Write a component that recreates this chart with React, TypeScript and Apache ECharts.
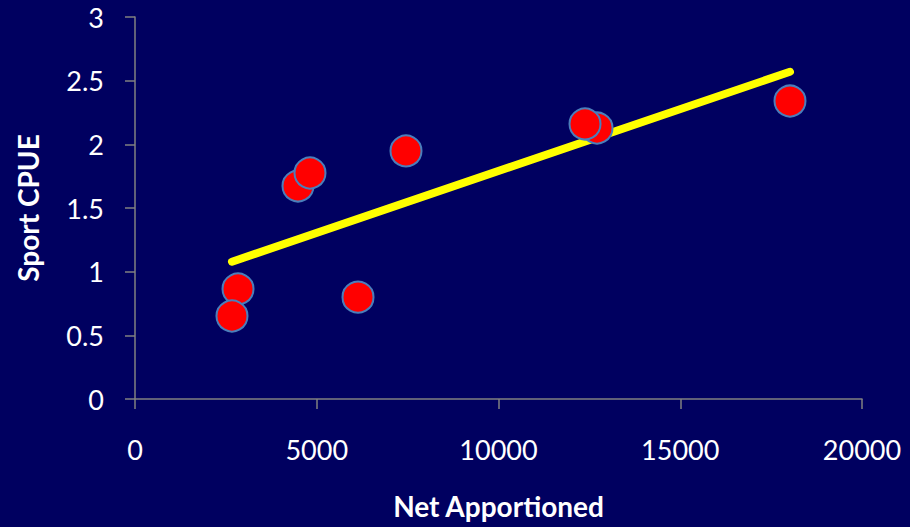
import React, { useEffect, useRef } from "react";
import * as echarts from "echarts";

const netApportioned = [2834, 2668, 4484, 4814, 6135, 7455, 12710, 12380, 18019];
const sportCpue = [0.864, 0.652, 1.673, 1.775, 0.80, 1.948, 2.128, 2.16, 2.34];
const trendX = [2668, 18019];
const trendY = [1.078, 2.57];

const FONT = "Lato";

export default function App() {
  const ref = useRef<HTMLDivElement>(null);
  useEffect(() => {
    if (!ref.current) return;
    const chart = echarts.init(ref.current, undefined, { renderer: "svg" });
    const axisLine = { show: true, lineStyle: { color: "#808080", width: 1.5 } };
    chart.setOption({
      animation: false,
      backgroundColor: "#000060",
      grid: { left: 135, right: 48, top: 17, bottom: 128 },
      xAxis: {
        type: "value",
        min: 0,
        max: 20000,
        interval: 5000,
        name: "Net Apportioned",
        nameLocation: "middle",
        nameGap: 93,
        nameTextStyle: { color: "#ffffff", fontFamily: FONT, fontWeight: "bold", fontSize: 28 },
        axisLine,
        axisTick: { show: true, length: 10, lineStyle: { color: "#808080", width: 1.5 } },
        axisLabel: {
          color: "#ffffff",
          fontFamily: FONT,
          fontSize: 27,
          margin: 37,
          formatter: (v: number) => String(v),
        },
        splitLine: { show: false },
      },
      yAxis: {
        type: "value",
        min: 0,
        max: 3,
        interval: 0.5,
        name: "Sport CPUE",
        nameLocation: "middle",
        nameGap: 93,
        nameTextStyle: { color: "#ffffff", fontFamily: FONT, fontWeight: "bold", fontSize: 28 },
        axisLine,
        axisTick: { show: true, length: 10, lineStyle: { color: "#808080", width: 1.5 } },
        axisLabel: { color: "#ffffff", fontFamily: FONT, fontSize: 27, margin: 31 },
        splitLine: { show: false },
      },
      series: [
        {
          type: "line",
          data: trendX.map((x, i) => [x, trendY[i]]),
          showSymbol: false,
          symbol: "none",
          lineStyle: { color: "#ffff00", width: 8, cap: "round" },
          z: 2,
          silent: true,
        },
        {
          type: "scatter",
          data: netApportioned.map((x, i) => [x, sportCpue[i]]),
          symbol: "circle",
          symbolSize: 31,
          itemStyle: { color: "#ff0000", borderColor: "#4a7ebb", borderWidth: 2, opacity: 1 },
          z: 3,
        },
      ],
    });
    return () => chart.dispose();
  }, []);
  return <div ref={ref} style={{ width: 910, height: 527, position: "absolute", left: 0, top: 0 }} />;
}
